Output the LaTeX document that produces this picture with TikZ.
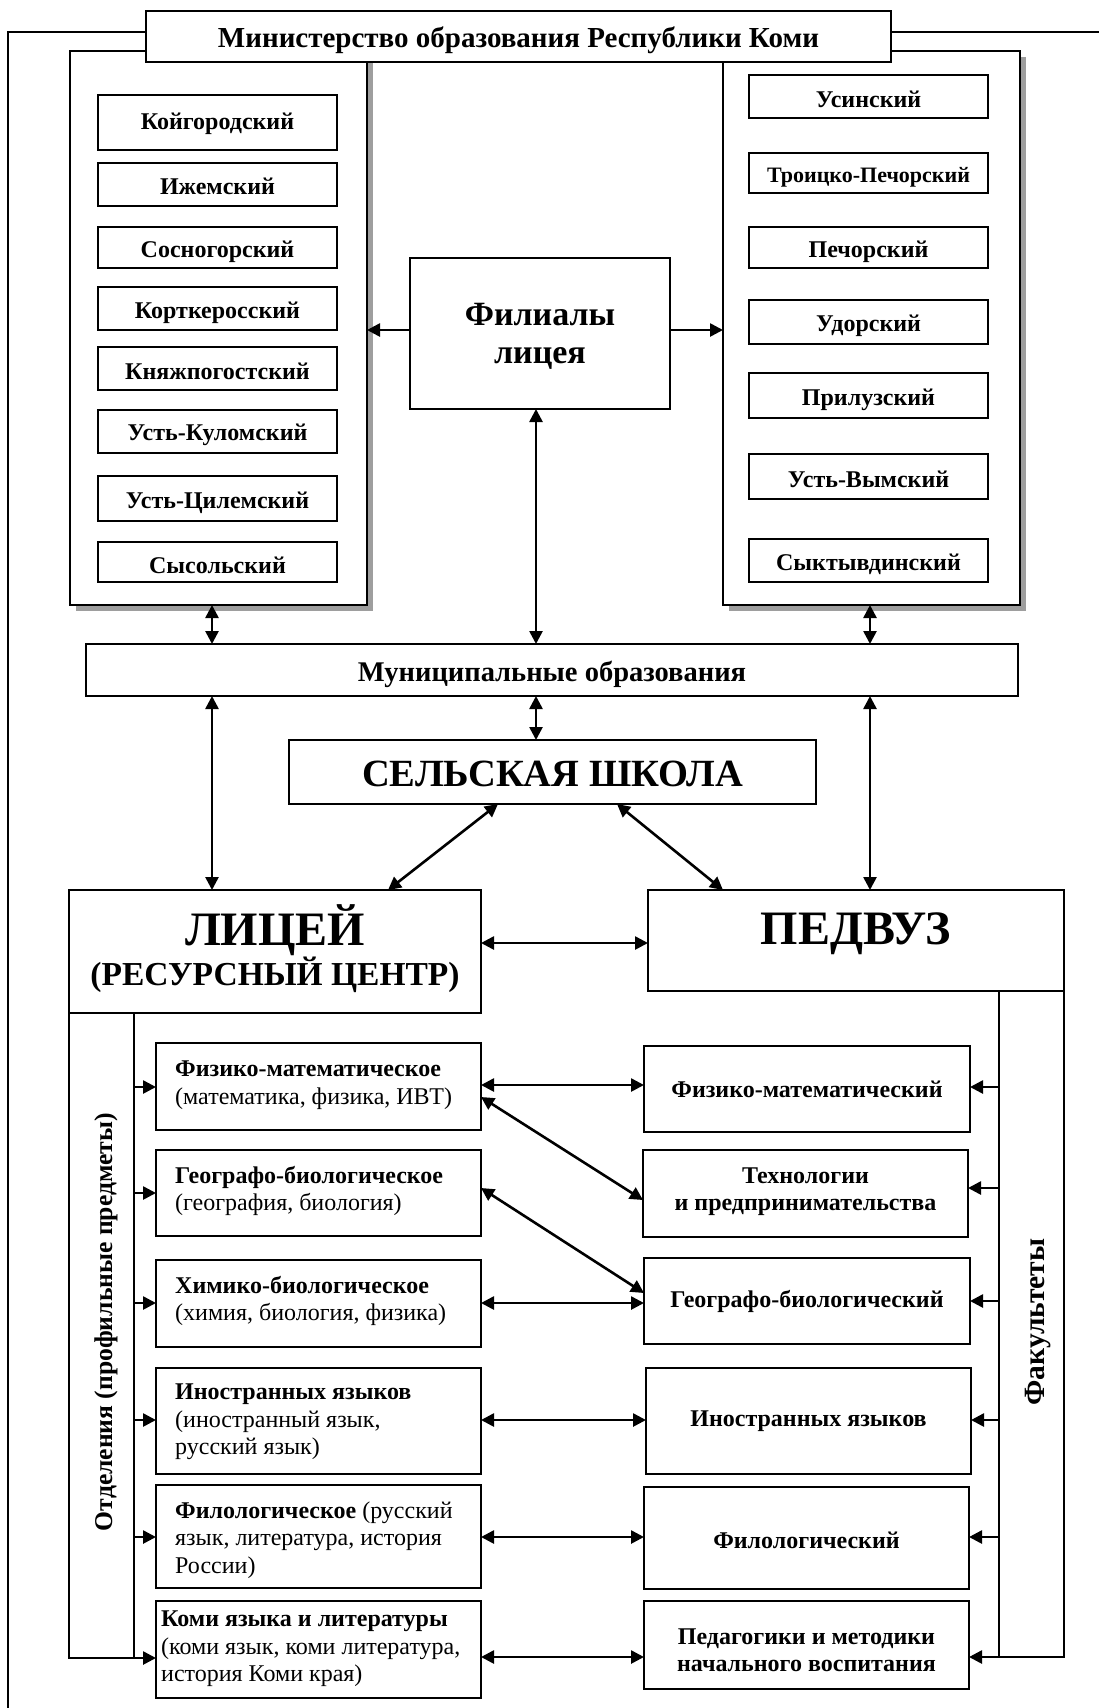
\documentclass[tikz,border=0pt]{standalone}
\usepackage{fontspec}
\setmainfont{Liberation Serif}
\usetikzlibrary{arrows.meta}

% box only: name x1 y1 x2 y2 style
\newcommand\pbox[6]{%
  \pgfmathsetmacro\pcx{(#2+#4)/2}%
  \pgfmathsetmacro\pcy{(#3+#5)/2}%
  \pgfmathsetmacro\pww{#4-#2}%
  \pgfmathsetmacro\phh{#5-#3}%
  \node[bx,#6,minimum width=\pww pt,minimum height=\phh pt] (#1) at (\pcx,\pcy) {};}
% box with text: name x1 y1 x2 y2 font-style text shift(canvas, negative = down)
\newcommand\tbox[8]{%
  \pbox{#1}{#2}{#3}{#4}{#5}{}%
  \node[txt,#6] (#1t) at ([yshift=#8pt]#1.center) {#7};}
\newcommand\pshadow[4]{%
  \fill[black!38] (#1+6,#2+6) rectangle (#3+6,#4+6);}

\tikzset{
  bx/.style={draw, line width=1.6pt, fill=white, inner sep=0pt, outer sep=0pt},
  txt/.style={inner sep=0pt, align=center},
  open/.style={draw=none, fill=none},
  tip/.tip={Triangle[length=13pt,width=13pt]},
  arr/.style={line width=2.6pt, -tip},
  dbl/.style={line width=2.6pt, tip-tip},
  thinline/.style={line width=1.6pt},
  fmin/.style={font=\bfseries\fontsize{29pt}{32pt}\selectfont},
  fdist/.style={font=\bfseries\fontsize{24pt}{28pt}\selectfont},
  fdists/.style={font=\bfseries\fontsize{22pt}{26pt}\selectfont},
  ffil/.style={font=\bfseries\fontsize{34pt}{38pt}\selectfont},
  fmun/.style={font=\bfseries\fontsize{28.5pt}{30pt}\selectfont},
  fsch/.style={font=\bfseries\fontsize{38.5pt}{44pt}\selectfont},
  fbig/.style={font=\bfseries\fontsize{48pt}{45pt}\selectfont},
  fsub/.style={font=\bfseries\fontsize{33.5pt}{45pt}\selectfont},
  ffac/.style={font=\bfseries\fontsize{24pt}{27.5pt}\selectfont},
  ltxt/.style={inner sep=0pt, align=left, anchor=west, font=\fontsize{24pt}{27.5pt}\selectfont},
  rlab/.style={inner sep=0pt, rotate=90, font=\bfseries\fontsize{25.6pt}{30pt}\selectfont},
}

\begin{document}
\begin{tikzpicture}[x=1pt,y=-1pt]
\useasboundingbox (0,0) rectangle (1099,1708);
\fill[white] (0,0) rectangle (1099,1708);

% outer frame lines
\coordinate (frameL) at (8,32);
\coordinate (frameLB) at (8,1708);
\coordinate (frameR) at (1099,32);

% group boxes with shadows
\pshadow{70}{51}{367}{605}
\pshadow{723}{51}{1020}{605}
\pbox{lg}{70}{51}{367}{605}{}
\pbox{rg}{723}{51}{1020}{605}{}

% ministry
\tbox{min}{146}{11}{891}{62}{fmin}{Министерство образования Республики Коми}{-4}
\draw[thinline] (min.west |- frameL) -- (frameL) -- (frameLB);
\draw[thinline] (min.east |- frameR) -- (frameR);

% left districts
\tbox{d1}{98}{95}{337}{150}{fdist}{Койгородский}{-1}
\tbox{d2}{98}{163}{337}{206}{fdist}{Ижемский}{-2}
\tbox{d3}{98}{227}{337}{268}{fdist}{Сосногорский}{-4}
\tbox{d4}{98}{287}{337}{330}{fdist}{Корткеросский}{-4}
\tbox{d5}{98}{347}{337}{390}{fdist}{Княжпогостский}{-3}
\tbox{d6}{98}{410}{337}{453}{fdist}{Усть-Куломский}{-3.5}
\tbox{d7}{98}{476}{337}{521}{fdist}{Усть-Цилемский}{-4}
\tbox{d8}{98}{542}{337}{582}{fdist}{Сысольский}{-3}

% right districts
\tbox{r1}{749}{75}{988}{118}{fdist}{Усинский}{-3}
\tbox{r2}{749}{153}{988}{193}{fdists}{Троицко-Печорский}{-4}
\tbox{r3}{749}{227}{988}{268}{fdist}{Печорский}{-4}
\tbox{r4}{749}{300}{988}{344}{fdist}{Удорский}{-4}
\tbox{r5}{749}{373}{988}{418}{fdist}{Прилузский}{-4}
\tbox{r6}{749}{454}{988}{499}{fdist}{Усть-Вымский}{-2.5}
\tbox{r7}{749}{539}{988}{582}{fdist}{Сыктывдинский}{-3.5}

% centre boxes
\tbox{fil}{410}{258}{670}{409}{ffil}{Филиалы\\лицея}{-3}
\tbox{mun}{86}{644}{1018}{696}{fmun}{Муниципальные образования}{-4}
\tbox{sch}{289}{740}{816}{804}{fsch}{СЕЛЬСКАЯ ШКОЛА}{-2}
\pbox{lyc}{69}{890}{481}{1013}{}
\node[fbig, inner sep=0pt] (lyct) at (275,930) {ЛИЦЕЙ};
\node[fsub, inner sep=0pt] (lycs) at (275,975) {(РЕСУРСНЫЙ ЦЕНТР)};
\pbox{ped}{648}{890}{1064}{991}{}
\node[fbig, inner sep=0pt] (pedt) at (856,934) {ПЕДВУЗ};

% brackets
\pbox{dep}{69}{1013}{134}{1658}{open}
\draw[thinline] (69,1013) -- (69,1658) -- (134,1658) -- (134,1013);
\node[rlab] (deplab) at (106,1322) {Отделения (профильные предметы)};
\draw[thinline] (999,991) -- (999,1657) -- (1064,1657) -- (1064,991);
\pbox{fac}{999}{991}{1064}{1657}{open}
\node[rlab, font=\bfseries\fontsize{29.5pt}{30pt}\selectfont] (faclab) at (1038,1322) {Факультеты};

% left department boxes
\pbox{a1}{156}{1043}{481}{1130}{}
\pbox{a2}{156}{1150}{481}{1236}{}
\pbox{a3}{156}{1260}{481}{1347}{}
\pbox{a4}{156}{1368}{481}{1474}{}
\pbox{a5}{156}{1485}{481}{1588}{}
\pbox{a6}{156}{1601}{481}{1698}{}
\node[ltxt] (a1t) at (175,1085) {\textbf{Физико-математическое}\\(математика, физика, ИВТ)};
\node[ltxt] (a2t) at (175,1191) {\textbf{Географо-биологическое}\\(география, биология)};
\node[ltxt] (a3t) at (175,1301) {\textbf{Химико-биологическое}\\(химия, биология, физика)};
\node[ltxt] (a4t) at (175,1422) {\textbf{Иностранных языков}\\(иностранный язык,\\русский язык)};
\node[ltxt] (a5t) at (175,1540) {\textbf{Филологическое} (русский\\язык, литература, история\\России)};
\node[ltxt] (a6t) at (161,1649) {\textbf{Коми языка и литературы}\\(коми язык, коми литература,\\история Коми края)};

% right faculty boxes
\tbox{f1}{644}{1046}{970}{1132}{ffac}{Физико-математический}{0}
\tbox{f2}{643}{1150}{968}{1237}{ffac}{Технологии\\и предпринимательства}{2}
\tbox{f3}{644}{1258}{970}{1344}{ffac}{Географо-биологический}{0}
\tbox{f4}{646}{1368}{971}{1474}{ffac}{Иностранных языков}{0}
\tbox{f5}{644}{1487}{969}{1589}{ffac}{Филологический}{-2}
\tbox{f6}{644}{1601}{969}{1689}{ffac}{Педагогики и методики\\начального воспитания}{-5}

% top connectors
\draw[arr] (fil.west |- 0,330) -- (lg.east |- 0,330);
\draw[arr] (fil.east |- 0,330) -- (rg.west |- 0,330);
\draw[dbl] (fil.south -| 536,0) -- (mun.north -| 536,0);
\draw[dbl] (lg.south -| 212,0) -- (mun.north -| 212,0);
\draw[dbl] (rg.south -| 870,0) -- (mun.north -| 870,0);
\draw[dbl] (mun.south -| 212,0) -- (lyc.north -| 212,0);
\draw[dbl] (mun.south -| 536,0) -- (sch.north -| 536,0);
\draw[dbl] (mun.south -| 870,0) -- (ped.north -| 870,0);
\draw[dbl] (sch.south -| 498,0) -- (lyc.north -| 388,0);
\draw[dbl] (sch.south -| 617,0) -- (ped.north -| 723,0);
\draw[dbl] (lyc.east |- 0,943) -- (ped.west |- 0,943);

% bracket arrows
\foreach \n/\yy in {a1/1087,a2/1193,a3/1303,a4/1420,a5/1537,a6/1658}
  \draw[arr] (dep.east |- 0,\yy) -- (\n.west |- 0,\yy);
\foreach \n/\yy in {f1/1087,f2/1188,f3/1301,f4/1420,f5/1537,f6/1657}
  \draw[arr] (fac.west |- 0,\yy) -- (\n.east |- 0,\yy);

% department-faculty links
\draw[dbl] (a1.east |- 0,1085) -- (f1.west |- 0,1085);
\draw[dbl] (a1.east |- 0,1097) -- (f2.west |- 0,1200);
\draw[dbl] (a2.east |- 0,1188) -- (f3.west |- 0,1293);
\draw[dbl] (a3.east |- 0,1303) -- (f3.west |- 0,1303);
\draw[dbl] (a4.east |- 0,1420) -- (f4.west |- 0,1420);
\draw[dbl] (a5.east |- 0,1537) -- (f5.west |- 0,1537);
\draw[dbl] (a6.east |- 0,1657) -- (f6.west |- 0,1657);
\end{tikzpicture}
\end{document}
